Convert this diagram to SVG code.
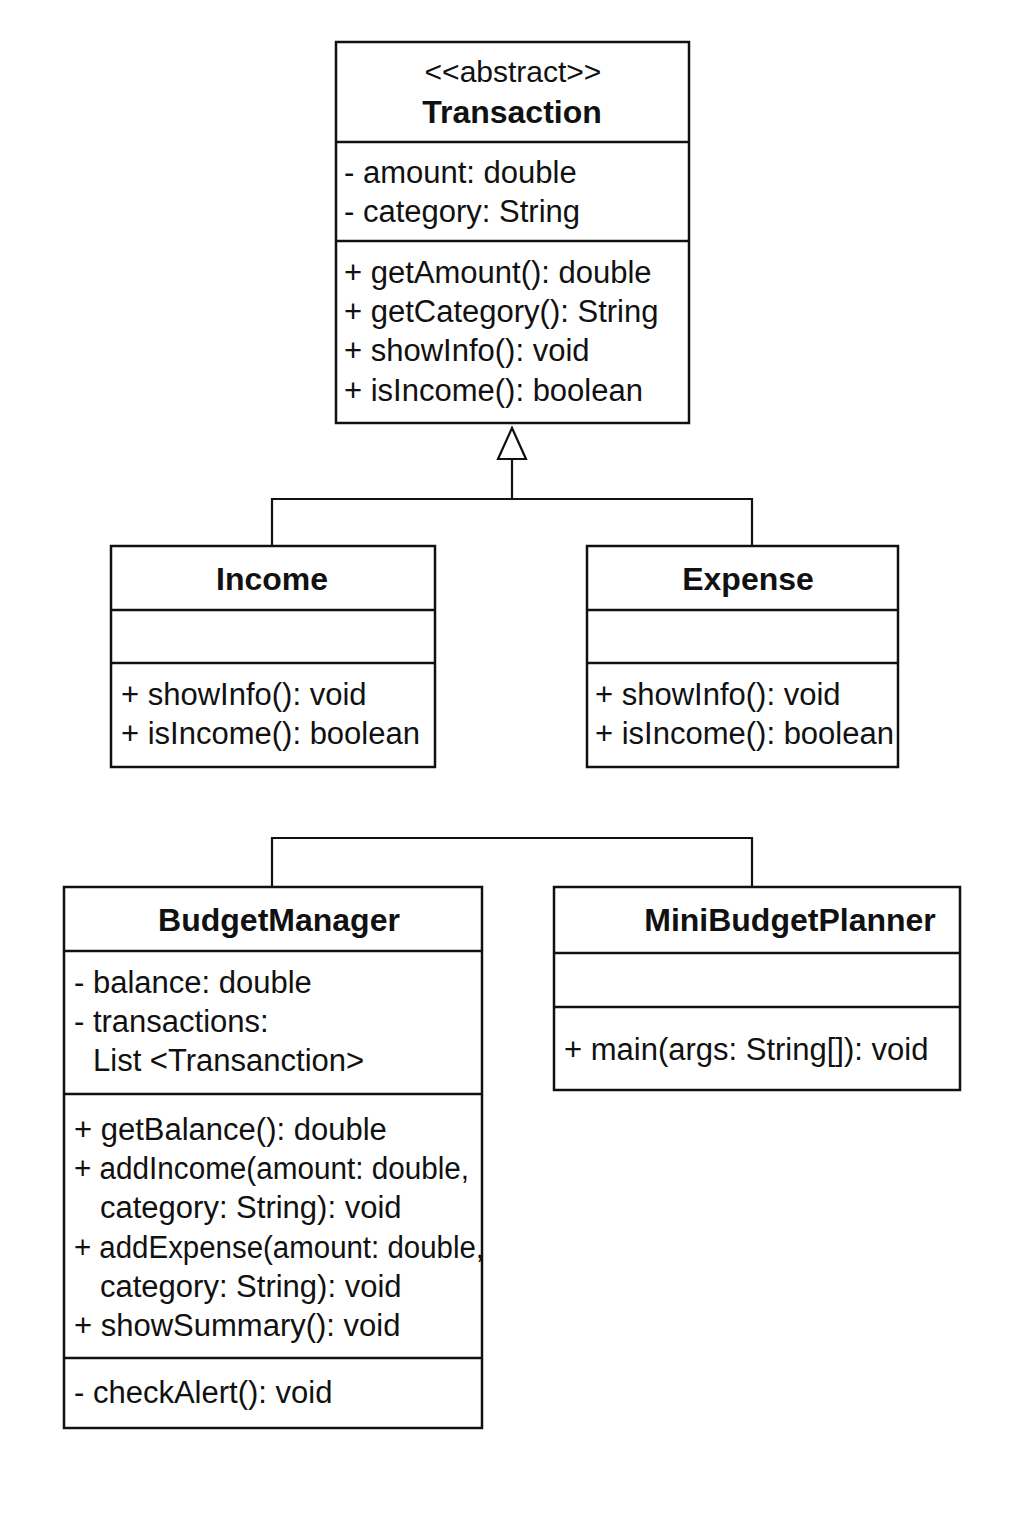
<svg xmlns="http://www.w3.org/2000/svg" width="1024" height="1536" viewBox="0 0 1024 1536">
<style>
.box{fill:#fff;stroke:#111;stroke-width:2.5}
.div{stroke:#111;stroke-width:2.5}
.t{font-family:"Liberation Sans",Arial,sans-serif;font-size:31px;fill:#111}
.b{font-family:"Liberation Sans",Arial,sans-serif;font-size:32px;font-weight:bold;fill:#111;text-anchor:middle}
.s{font-family:"Liberation Sans",Arial,sans-serif;font-size:30px;fill:#111;text-anchor:middle}
.c{fill:none;stroke:#111;stroke-width:2.2}
</style>
<rect width="1024" height="1536" fill="#fff"/>
<g id="connectors">
<polyline class="c" points="272,546 272,499 752,499 752,546"/>
<line class="c" x1="512" y1="499" x2="512" y2="459"/>
<polygon points="512,428 498,459 526,459" fill="#fff" stroke="#111" stroke-width="2.2"/>
<polyline class="c" points="272,887 272,838 752,838 752,887"/>
</g>
<g id="Transaction">
<rect class="box" x="336" y="42" width="353" height="381"/>
<line class="div" x1="336" y1="142" x2="689" y2="142"/>
<line class="div" x1="336" y1="241" x2="689" y2="241"/>
<text class="s" x="513" y="82">&lt;&lt;abstract&gt;&gt;</text>
<text class="b" x="512" y="123">Transaction</text>
<text class="t" x="344" y="183">- amount: double</text>
<text class="t" x="344" y="222">- category: String</text>
<text class="t" x="344" y="283">+ getAmount(): double</text>
<text class="t" x="344" y="322">+ getCategory(): String</text>
<text class="t" x="344" y="361">+ showInfo(): void</text>
<text class="t" x="344" y="401">+ isIncome(): boolean</text>
</g>
<g id="Income">
<rect class="box" x="111" y="546" width="324" height="221"/>
<line class="div" x1="111" y1="610" x2="435" y2="610"/>
<line class="div" x1="111" y1="663" x2="435" y2="663"/>
<text class="b" x="272" y="590">Income</text>
<text class="t" x="121" y="705">+ showInfo(): void</text>
<text class="t" x="121" y="744">+ isIncome(): boolean</text>
</g>
<g id="Expense">
<rect class="box" x="587" y="546" width="311" height="221"/>
<line class="div" x1="587" y1="610" x2="898" y2="610"/>
<line class="div" x1="587" y1="663" x2="898" y2="663"/>
<text class="b" x="748" y="590">Expense</text>
<text class="t" x="595" y="705">+ showInfo(): void</text>
<text class="t" x="595" y="744">+ isIncome(): boolean</text>
</g>
<g id="BudgetManager">
<rect class="box" x="64" y="887" width="418" height="541"/>
<line class="div" x1="64" y1="951" x2="482" y2="951"/>
<line class="div" x1="64" y1="1094" x2="482" y2="1094"/>
<line class="div" x1="64" y1="1358" x2="482" y2="1358"/>
<text class="b" x="279" y="931">BudgetManager</text>
<text class="t" x="74" y="993">- balance: double</text>
<text class="t" x="74" y="1032">- transactions:</text>
<text class="t" x="93" y="1071">List &lt;Transanction&gt;</text>
<text class="t" x="74" y="1140">+ getBalance(): double</text>
<text class="t" x="74" y="1179" textLength="395" lengthAdjust="spacingAndGlyphs">+ addIncome(amount: double,</text>
<text class="t" x="100" y="1218">category: String): void</text>
<text class="t" x="74" y="1258" textLength="410" lengthAdjust="spacingAndGlyphs">+ addExpense(amount: double,</text>
<text class="t" x="100" y="1297">category: String): void</text>
<text class="t" x="74" y="1336">+ showSummary(): void</text>
<text class="t" x="74" y="1403">- checkAlert(): void</text>
</g>
<g id="MiniBudgetPlanner">
<rect class="box" x="554" y="887" width="406" height="203"/>
<line class="div" x1="554" y1="953" x2="960" y2="953"/>
<line class="div" x1="554" y1="1007" x2="960" y2="1007"/>
<text class="b" x="790" y="931">MiniBudgetPlanner</text>
<text class="t" x="564" y="1060">+ main(args: String[]): void</text>
</g>
</svg>
